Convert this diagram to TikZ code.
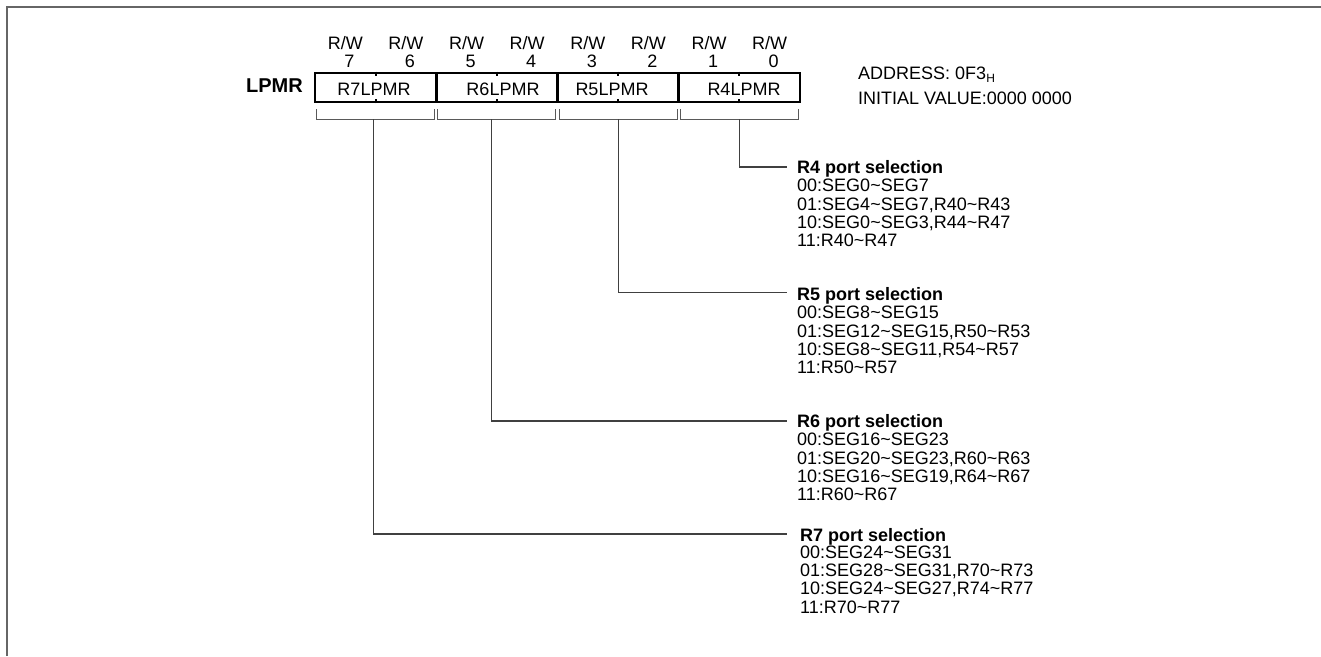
\documentclass[tikz,border=0pt]{standalone}
\usepackage{fontspec}
\setmainfont{Liberation Sans}
\begin{document}
\begin{tikzpicture}[x=1pt,y=-1pt,
  every node/.style={inner sep=0pt, font=\fontsize{18}{18.3}\selectfont},
  frameline/.style={draw=black!60, line width=1.3pt},
  field/.style={draw=black, line width=2.6pt, minimum width=121.25pt, minimum height=29pt},
  tick/.style={draw=black, line width=2pt},
  bracket/.style={draw=black!65, line width=1pt},
  conn/.style={draw=black!75, line width=1.1pt},
  lbl/.style={anchor=base},
  blk/.style={anchor=base west}]
\useasboundingbox (0,0) rectangle (1321,656);
\draw[frameline] (7,656) -- (7,7) -- (1321,7);

% register fields
\node[field] (f7) at (375.6,87.5) {};
\node[field] (f6) at (496.9,87.5) {};
\node[field] (f5) at (618.1,87.5) {};
\node[field] (f4) at (739.4,87.5) {};
\foreach \f in {f7,f6,f5,f4}{
  \draw[tick] (\f.north) -- ++(0,4);
  \draw[tick] (\f.south) -- ++(0,-4);
}
\node[lbl] (l7) at (374,95) {R7LPMR};
\node[lbl] (l6) at (503,95) {R6LPMR};
\node[lbl] (l5) at (612,95) {R5LPMR};
\node[lbl] (l4) at (744,95) {R4LPMR};
\node[anchor=base east, font=\fontsize{20}{20}\selectfont\bfseries] (reg) at (303,92) {LPMR};

% bit labels
\foreach \b/\x in {7/345.3,6/405.9,5/466.6,4/527.2,3/587.8,2/648.4,1/709.1,0/769.7}{
  \node[lbl] (rw\b) at (\x,49.5) {R/W};
  \node[lbl] (bn\b) at (\x+4,67.5) {\b};
}

% address
\node[blk] (addr) at (858,79) {ADDRESS: 0F3\raisebox{-3pt}{\fontsize{12}{12}\selectfont H}};
\node[blk] (init) at (858,104) {INITIAL VALUE:0000 0000};

% brackets
\foreach \f in {f7,f6,f5,f4}{
  \draw[bracket] ([xshift=3pt,yshift=-6pt]\f.south west) -- ([xshift=3pt,yshift=-16pt]\f.south west)
     -- ([xshift=-3pt,yshift=-16pt]\f.south east) -- ([xshift=-3pt,yshift=-6pt]\f.south east);
}
\coordinate (b7) at ([xshift=-2pt,yshift=-16pt]f7.south);
\coordinate (b6) at ([xshift=-5pt,yshift=-16pt]f6.south);
\coordinate (b5) at ([yshift=-16pt]f5.south);
\coordinate (b4) at ([yshift=-16pt]f4.south);

% selection blocks
\node[blk] (s4) at (797,173.5) {\begin{tabular}[t]{@{}l@{}}\textbf{R4 port selection}\\
00:SEG0\textasciitilde SEG7\\
01:SEG4\textasciitilde SEG7,R40\textasciitilde R43\\
10:SEG0\textasciitilde SEG3,R44\textasciitilde R47\\
11:R40\textasciitilde R47\end{tabular}};
\node[blk] (s5) at (797,300.5) {\begin{tabular}[t]{@{}l@{}}\textbf{R5 port selection}\\
00:SEG8\textasciitilde SEG15\\
01:SEG12\textasciitilde SEG15,R50\textasciitilde R53\\
10:SEG8\textasciitilde SEG11,R54\textasciitilde R57\\
11:R50\textasciitilde R57\end{tabular}};
\node[blk] (s6) at (797,427.5) {\begin{tabular}[t]{@{}l@{}}\textbf{R6 port selection}\\
00:SEG16\textasciitilde SEG23\\
01:SEG20\textasciitilde SEG23,R60\textasciitilde R63\\
10:SEG16\textasciitilde SEG19,R64\textasciitilde R67\\
11:R60\textasciitilde R67\end{tabular}};
\node[blk] (s7) at (800,541) {\begin{tabular}[t]{@{}l@{}}\textbf{R7 port selection}\\[-1pt]
00:SEG24\textasciitilde SEG31\\
01:SEG28\textasciitilde SEG31,R70\textasciitilde R73\\
10:SEG24\textasciitilde SEG27,R74\textasciitilde R77\\
11:R70\textasciitilde R77\end{tabular}};

% connectors
\draw[conn] (b4) |- ([xshift=-10pt,yshift=6.5pt]s4.base west);
\draw[conn] (b5) |- ([xshift=-10pt,yshift=8pt]s5.base west);
\draw[conn] (b6) |- ([xshift=-10pt,yshift=6.5pt]s6.base west);
\draw[conn] (b7) |- ([xshift=-13pt,yshift=7pt]s7.base west);
\end{tikzpicture}
\end{document}
